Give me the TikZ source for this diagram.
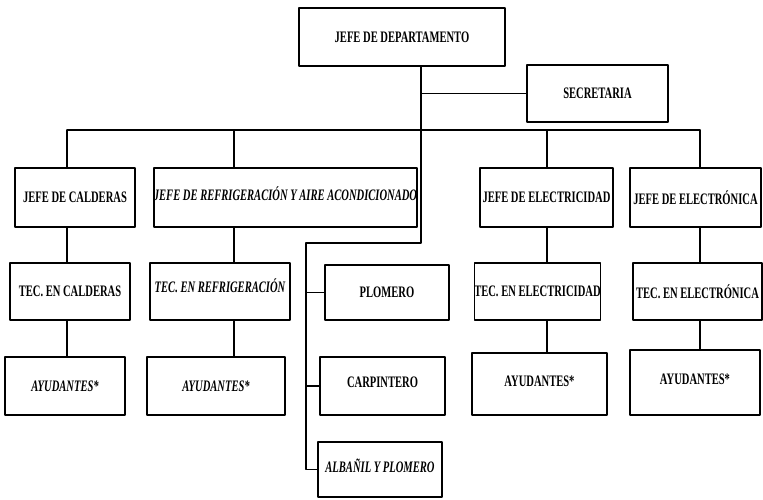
\documentclass[tikz,border=0pt]{standalone}
\usepackage{fontspec}
\setmainfont[FakeStretch=0.66]{Liberation Serif}
\begin{document}
\begin{tikzpicture}[x=1pt, y=-1pt, line width=1.3pt, line join=round, line cap=round,
		font=\fontsize{16}{18}\selectfont\bfseries,
		caja/.style={draw, inner sep=0pt, minimum height=57pt, minimum width=#1},
		cur/.style={font=\fontsize{16}{18}\selectfont\bfseries\itshape}]
	\useasboundingbox (0,0) rectangle (763,499);
	% Nivel 1
	\node[caja=206, minimum height=58pt] (dept) at (402,37) {JEFE DE DEPARTAMENTO};
	\node[caja=141] (sec) at (597.5,93.5) {SECRETARIA};
	% Jefes
	\node[caja=120, minimum height=59pt] (calj) at (75,197.5) {JEFE DE CALDERAS};
	\node[caja=263, minimum height=59pt, cur, text depth=8pt] (refj) at (285.5,197.5) {JEFE DE REFRIGERACIÓN Y AIRE ACONDICIONADO};
	\node[caja=133, minimum height=59pt] (elecj) at (546.5,197.5) {JEFE DE ELECTRICIDAD};
	\node[caja=131, minimum height=59pt] (electroj) at (695.5,197.5) {JEFE DE ELECTRÓNICA};
	% Tecnicos
	\node[caja=120] (teccal) at (70,291.5) {TEC. EN CALDERAS};
	\node[caja=140, cur, text depth=12pt] (tecref) at (220,291.5) {TEC. EN REFRIGERACIÓN};
	\node[caja=124, minimum height=55pt] (plom) at (387,292.5) {PLOMERO};
	\node[caja=125] (tecelec) at (537.5,291.5) {TEC. EN ELECTRICIDAD};
	\node[caja=129] (tecelectro) at (697.5,291.5) {TEC. EN ELECTRÓNICA};
	% Ayudantes
	\node[caja=120, minimum height=58pt, cur] (ay1) at (65,386) {AYUDANTES*};
	\node[caja=138, minimum height=58pt, cur] (ay2) at (216,386) {AYUDANTES*};
	\node[caja=125, minimum height=58pt, text depth=8pt] (carp) at (382.5,386) {CARPINTERO};
	\node[caja=135, minimum height=62pt, text depth=6pt] (ay3) at (539.5,384) {AYUDANTES*};
	\node[caja=130, minimum height=65pt, text depth=6pt] (ay4) at (695,382.5) {AYUDANTES*};
	\node[caja=124, minimum height=55pt, cur, text depth=8pt] (alb) at (380,469.5) {ALBAÑIL Y PLOMERO};
	% Lineas
	\coordinate (busl) at (67,130); \coordinate (busr) at (700,130);
	\coordinate (t) at (421,243); \coordinate (l) at (306,243);
	\draw (dept.south -| t) |- (sec.west);
	\draw (dept.south -| t) -- (t) -- (l) -- (l |- alb.west) -- (alb.west);
	\draw (l |- plom.west) -- (plom.west);
	\draw (l |- carp.west) -- (carp.west);
	\draw (busl) -- (busr);
	\foreach \cx/\a/\b/\d in {67/calj/teccal/ay1, 234/refj/tecref/ay2, 547/elecj/tecelec/ay3, 700/electroj/tecelectro/ay4}{
		\coordinate (c) at (\cx,130);
		\draw (c) -- (c |- \a.north);
		\draw (c |- \a.south) -- (c |- \b.north);
		\draw (c |- \b.south) -- (c |- \d.north);
	}
\end{tikzpicture}
\end{document}
